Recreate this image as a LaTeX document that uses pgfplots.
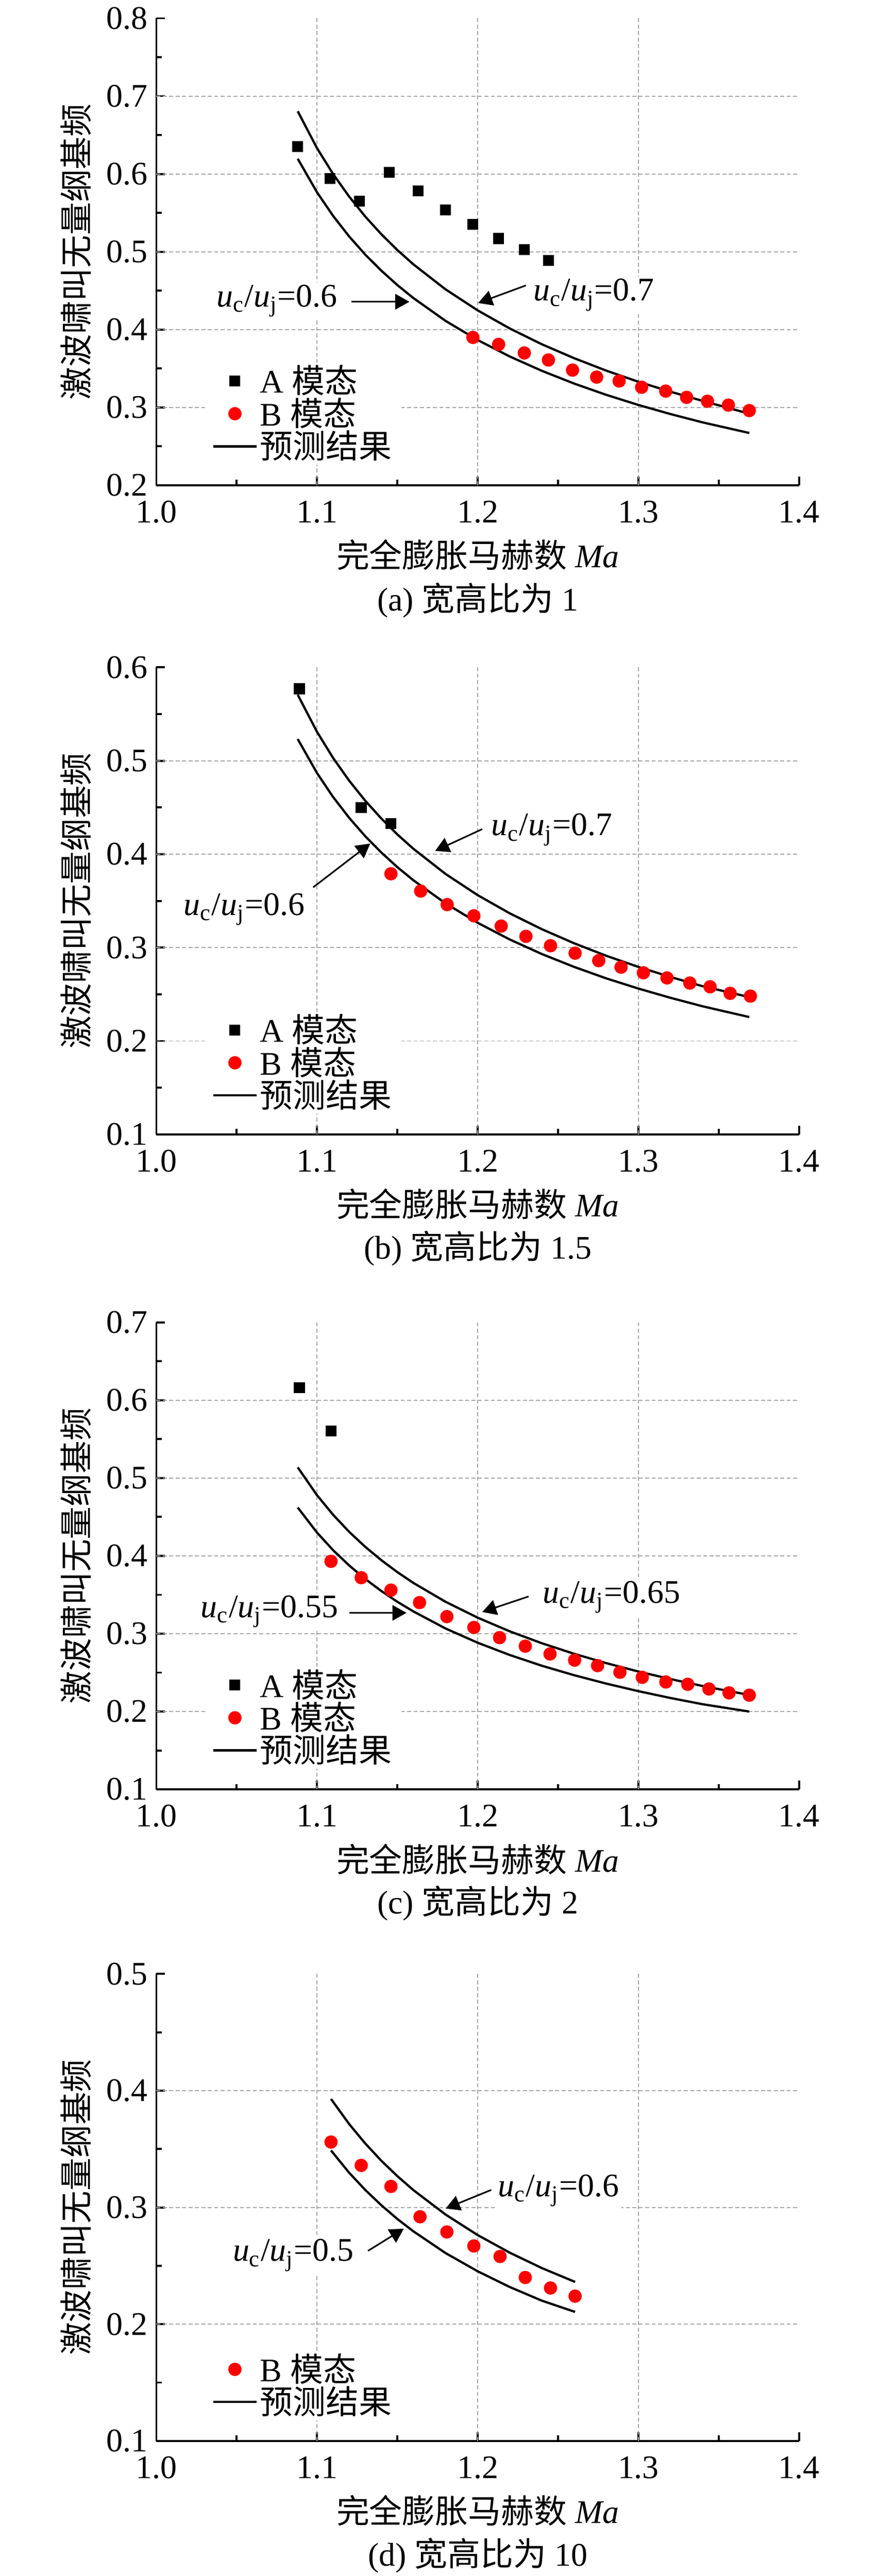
\documentclass[border=0pt]{standalone}
\usepackage{fontspec}
\setmainfont{Liberation Serif}
\newfontfamily\cjk{Noto Sans CJK SC}
\usepackage{pgfplots}
\pgfplotsset{compat=1.18}
\usetikzlibrary{arrows.meta}
\newcommand\fs{\fontsize{13.3}{16}\selectfont}
\newcommand\uu[1]{\textit{u}\textsubscript{c}/\textit{u}\textsubscript{j}=#1}

\tikzset{
 ann/.style={font=\fs, fill=white, inner sep=1pt},
 arr/.style={line width=0.65pt, -{Triangle[length=5.7pt,width=6.2pt]}},
}
\pgfplotsset{
 myax/.style={
  scale only axis, width=259.8pt, height=188.8pt,
  anchor=south west, clip=false,
  axis lines*=left,
  axis line style={line width=0.8pt},
  tick align=inside,
  major tick length=3.5pt, minor tick length=2.2pt,
  every tick/.style={black, line width=0.8pt},
  minor tick num=1,
  xmin=1.0, xmax=1.4,
  xtick={1.0,1.1,1.2,1.3,1.4},
  extra x ticks={1.1,1.2,1.3}, extra x tick labels={},
  extra x tick style={grid=major, major tick length=0pt},
  extra y tick labels={},
  extra y tick style={grid=major, major tick length=0pt},
  major grid style={line width=0.4pt, black!35, dash pattern=on 1.6pt off 1pt},
  /pgf/number format/fixed, /pgf/number format/fixed zerofill,
  /pgf/number format/precision=1, /pgf/number format/assume math mode=true,
  tick label style={font=\fs},
  xticklabel style={anchor=center, yshift=-10.8pt},
  label style={font=\fs},
  xlabel={{\cjk 完全膨胀马赫数} \textit{Ma}},
  xlabel style={at={(axis description cs:0.5,0)}, anchor=center, yshift=-28.2pt},
  ylabel={\cjk 激波啸叫无量纲基频},
  ylabel style={at={(axis description cs:-0.1255,0.5)}, anchor=center},
  legend style={at={(axis description cs:0.0747,0.0434)}, anchor=south west,
    draw=none, fill=white, inner xsep=3pt, inner ysep=0pt, row sep=-1.5pt,
    nodes={inner sep=1pt, anchor=west}, font=\fs},
  legend cell align=left,
  legend image code/.code={\draw[mark repeat=2,mark phase=2,##1] plot coordinates {(0pt,0pt) (8.7pt,0pt) (17.4pt,0pt)};},
 },
 amode/.style={only marks, mark=square*, mark size=2pt, black, mark options={fill=black}},
 bmode/.style={only marks, mark=*, mark size=2.5pt, red, mark options={fill=red, draw=red}},
 pred/.style={no marks, black, line width=0.9pt},
}

\begin{document}
\begin{tikzpicture}
\path[use as bounding box] (0,0) rectangle (354.4pt,1041.4pt);

% ---------------- (a)
\begin{axis}[myax, at={(63.2pt,845.2pt)},
  ymin=0.2, ymax=0.8, ytick={0.2,0.3,0.4,0.5,0.6,0.7,0.8},
  extra y ticks={0.3,0.4,0.5,0.6,0.7}]
\addplot[amode] table {
1.088 0.635
1.108 0.594
1.1265 0.565
1.145 0.602
1.163 0.578
1.180 0.554
1.197 0.535
1.213 0.517
1.229 0.503
1.244 0.489
};
\addlegendentry{A {\cjk 模态}}
\addplot[bmode] table {
1.197 0.390
1.213 0.381
1.229 0.370
1.244 0.361
1.259 0.348
1.274 0.339
1.288 0.334
1.302 0.326
1.317 0.321
1.330 0.313
1.343 0.308
1.356 0.303
1.369 0.296
};
\addlegendentry{B {\cjk 模态}}
\addplot[pred] table {
1.088 0.6805
1.10 0.6331
1.11 0.5999
1.12 0.5709
1.13 0.5453
1.14 0.5226
1.15 0.5022
1.16 0.4838
1.18 0.4517
1.20 0.4247
1.22 0.4014
1.24 0.3811
1.26 0.3633
1.28 0.3473
1.30 0.3330
1.32 0.3202
1.34 0.3084
1.369 0.2920
};
\addlegendentry{\cjk 预测结果}
\addplot[pred, forget plot] table {
1.088 0.6195
1.10 0.5764
1.11 0.5461
1.12 0.5197
1.13 0.4964
1.14 0.4758
1.15 0.4572
1.16 0.4405
1.18 0.4112
1.20 0.3866
1.22 0.3654
1.24 0.3470
1.26 0.3307
1.28 0.3162
1.30 0.3032
1.32 0.2915
1.34 0.2808
1.369 0.2672
};
\node[ann, anchor=base east] at (axis cs:1.1145,0.4295) {\uu{0.6}};
\draw[arr] (axis cs:1.1213,0.4358) -- (axis cs:1.1575,0.4358);
\node[ann, anchor=base west] at (axis cs:1.2328,0.437) {\uu{0.7}};
\draw[arr] (axis cs:1.23,0.4568) -- (axis cs:1.2003,0.4342);
\node[font=\fs] at (axis description cs:0.5,0) [yshift=-46.4pt] {(a) {\cjk 宽高比为} 1};
\end{axis}

% ---------------- (b)
\begin{axis}[myax, at={(63.2pt,582.8pt)},
  ymin=0.1, ymax=0.6, ytick={0.1,0.2,0.3,0.4,0.5,0.6},
  extra y ticks={0.2,0.3,0.4,0.5}]
\addplot[amode] table {
1.089 0.577
1.1275 0.450
1.146 0.433
};
\addlegendentry{A {\cjk 模态}}
\addplot[bmode] table {
1.146 0.379
1.1645 0.3605
1.181 0.346
1.1976 0.334
1.2146 0.323
1.230 0.312
1.2453 0.302
1.2606 0.294
1.2753 0.286
1.2892 0.279
1.3031 0.273
1.3178 0.2675
1.332 0.262
1.3446 0.258
1.3571 0.251
1.3697 0.248
};
\addlegendentry{B {\cjk 模态}}
\addplot[pred] table {
1.088 0.5706
1.10 0.5309
1.11 0.5030
1.12 0.4787
1.13 0.4572
1.14 0.4382
1.15 0.4211
1.16 0.4057
1.18 0.3788
1.20 0.3561
1.22 0.3366
1.24 0.3196
1.26 0.3046
1.28 0.2912
1.30 0.2793
1.32 0.2685
1.34 0.2586
1.369 0.2470
};
\addlegendentry{\cjk 预测结果}
\addplot[pred, forget plot] table {
1.088 0.5232
1.10 0.4868
1.11 0.4612
1.12 0.4389
1.13 0.4192
1.14 0.4018
1.15 0.3861
1.16 0.3720
1.18 0.3473
1.20 0.3265
1.22 0.3086
1.24 0.2930
1.26 0.2793
1.28 0.2670
1.30 0.2561
1.32 0.2462
1.34 0.2371
1.369 0.2256
};
\node[ann, anchor=base west] at (axis cs:1.2066,0.420) {\uu{0.7}};
\draw[arr] (axis cs:1.2028,0.4268) -- (axis cs:1.1735,0.4035);
\node[ann, anchor=base east] at (axis cs:1.0941,0.3346) {\uu{0.6}};
\draw[arr] (axis cs:1.0976,0.3645) -- (axis cs:1.1331,0.4114);
\node[font=\fs] at (axis description cs:0.5,0) [yshift=-46pt] {(b) {\cjk 宽高比为} 1.5};
\end{axis}

% ---------------- (c)
\begin{axis}[myax, at={(63.2pt,318.0pt)},
  ymin=0.1, ymax=0.7, ytick={0.1,0.2,0.3,0.4,0.5,0.6,0.7},
  extra y ticks={0.2,0.3,0.4,0.5,0.6}]
\addplot[amode] table {
1.089 0.616
1.1087 0.5605
};
\addlegendentry{A {\cjk 模态}}
\addplot[bmode] table {
1.1087 0.393
1.1275 0.372
1.146 0.356
1.1638 0.340
1.1808 0.322
1.1976 0.308
1.2136 0.295
1.2296 0.284
1.245 0.274
1.2603 0.266
1.2746 0.259
1.2885 0.2505
1.3024 0.244
1.3171 0.238
1.3307 0.235
1.3439 0.229
1.3564 0.224
1.369 0.221
};
\addlegendentry{B {\cjk 模态}}
\addplot[pred] table {
1.088 0.5137
1.10 0.4779
1.11 0.4528
1.12 0.4309
1.13 0.4116
1.14 0.3945
1.15 0.3791
1.16 0.3652
1.18 0.3410
1.20 0.3206
1.22 0.3030
1.24 0.2877
1.26 0.2742
1.28 0.2622
1.30 0.2514
1.32 0.2417
1.34 0.2328
1.369 0.2213
};
\addlegendentry{\cjk 预测结果}
\addplot[pred, forget plot] table {
1.088 0.4621
1.10 0.4299
1.11 0.4073
1.12 0.3877
1.13 0.3703
1.14 0.3549
1.15 0.3410
1.16 0.3286
1.18 0.3067
1.20 0.2884
1.22 0.2726
1.24 0.2588
1.26 0.2467
1.28 0.2359
1.30 0.2262
1.32 0.2174
1.34 0.2094
1.369 0.2000
};
\node[ann, anchor=base east] at (axis cs:1.115,0.321) {\uu{0.55}};
\draw[arr] (axis cs:1.1202,0.3268) -- (axis cs:1.1557,0.3268);
\node[ann, anchor=base west] at (axis cs:1.2387,0.3395) {\uu{0.65}};
\draw[arr] (axis cs:1.2317,0.3479) -- (axis cs:1.2028,0.3279);
\node[font=\fs] at (axis description cs:0.5,0) [yshift=-46pt] {(c) {\cjk 宽高比为} 2};
\end{axis}

% ---------------- (d)
\begin{axis}[myax, at={(63.2pt,54.6pt)},
  ymin=0.1, ymax=0.5, ytick={0.1,0.2,0.3,0.4,0.5},
  extra y ticks={0.2,0.3,0.4}]
\addplot[bmode] table {
1.1087 0.356
1.1275 0.336
1.146 0.318
1.1641 0.292
1.1808 0.279
1.1976 0.267
1.2139 0.258
1.2296 0.240
1.2453 0.231
1.2606 0.224
};
\addlegendentry{B {\cjk 模态}}
\addplot[pred] table {
1.1087 0.3929
1.12 0.3714
1.13 0.3548
1.14 0.3400
1.15 0.3268
1.16 0.3148
1.18 0.2939
1.20 0.2763
1.22 0.2612
1.24 0.2480
1.2606 0.2362
};
\addlegendentry{\cjk 预测结果}
\addplot[pred, forget plot] table {
1.1087 0.3488
1.12 0.3297
1.13 0.3150
1.14 0.3019
1.15 0.2901
1.16 0.2795
1.18 0.2609
1.20 0.2453
1.22 0.2318
1.24 0.2201
1.2606 0.2105
};
\node[ann, anchor=base west] at (axis cs:1.2108,0.3093) {\uu{0.6}};
\draw[arr] (axis cs:1.2084,0.315) -- (axis cs:1.1801,0.2991);
\node[ann, anchor=base east] at (axis cs:1.1247,0.254) {\uu{0.5}};
\draw[arr] (axis cs:1.1317,0.2628) -- (axis cs:1.154,0.2818);
\node[font=\fs] at (axis description cs:0.5,0) [yshift=-46.4pt] {(d) {\cjk 宽高比为} 10};
\end{axis}
\end{tikzpicture}
\end{document}
